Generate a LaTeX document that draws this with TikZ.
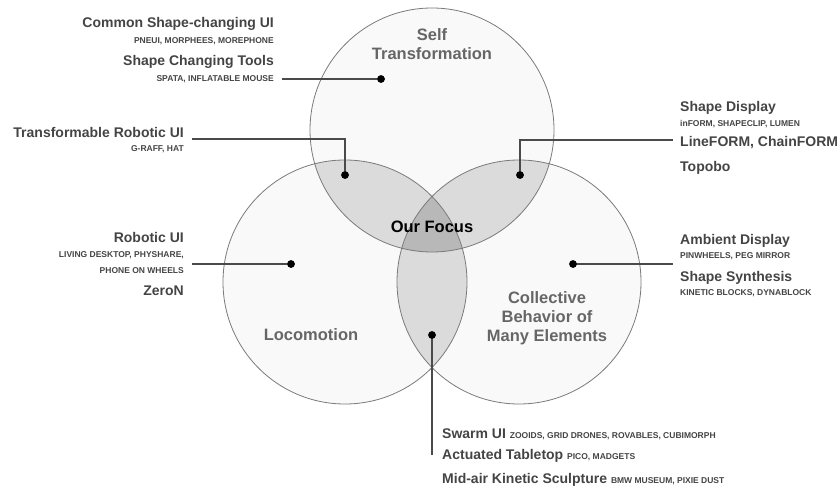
\documentclass[tikz,border=0pt]{standalone}
\usepackage{fontspec}
\setmainfont{Liberation Sans}
\definecolor{txt}{HTML}{444444}
\definecolor{clbl}{HTML}{666666}
\definecolor{conncol}{HTML}{4A4A4A}
\definecolor{cfill}{HTML}{F9F9F9}
\definecolor{pairfill}{HTML}{DBDBDB}
\definecolor{triplefill}{HTML}{B8B8B8}
\definecolor{cline}{HTML}{7A7A7A}
\begin{document}
\begin{tikzpicture}[x=1pt,y=-1pt,
  bigl/.style={font=\fontsize{14}{16}\selectfont\bfseries, text=txt, inner sep=0pt, text height=10pt, text depth=0pt},
  smalll/.style={font=\fontsize{8.5}{10}\selectfont\bfseries, text=txt, inner sep=0pt, text height=6.1pt, text depth=0pt},
  mixl/.style={inner sep=0pt, text=txt, anchor=base west},
  circlbl/.style={font=\fontsize{16.5}{19}\selectfont\bfseries, text=clbl, align=center, inner sep=0pt},
  conn/.style={draw=conncol, line width=1.3pt},
  dotn/.style={circle, fill=black, inner sep=0pt, minimum size=7.5pt},
  ring/.style={draw=cline, line width=0.8pt}
]
\useasboundingbox (0,0) rectangle (840,487);
\def\rad{122}
\coordinate (CT) at (432,130);
\coordinate (CL) at (345,282);
\coordinate (CR) at (519,282);
% fills
\fill[cfill] (CT) circle (\rad);
\fill[cfill] (CL) circle (\rad);
\fill[cfill] (CR) circle (\rad);
\begin{scope}
  \clip (CT) circle (\rad);
  \fill[pairfill] (CL) circle (\rad);
  \fill[pairfill] (CR) circle (\rad);
\end{scope}
\begin{scope}
  \clip (CL) circle (\rad);
  \fill[pairfill] (CR) circle (\rad);
\end{scope}
\begin{scope}
  \clip (CT) circle (\rad);
  \clip (CL) circle (\rad);
  \fill[triplefill] (CR) circle (\rad);
\end{scope}
\draw[ring] (CT) circle (\rad);
\draw[ring] (CL) circle (\rad);
\draw[ring] (CR) circle (\rad);

% circle labels
\node[circlbl] (lself) at (432,44.5) {Self\\Transformation};
\node[circlbl] (lloco) at (311,335) {Locomotion};
\node[circlbl, text=black] (lfocus) at (432,227) {Our Focus};
\node[circlbl, text=clbl] (lcoll) at (547,318) {Collective\\Behavior of\\Many Elements};

% top-left labels
\node[bigl, anchor=east] (t1) at (274,23) {Common Shape-changing UI};
\node[smalll, anchor=east] (t1s) at (274,40) {PNEUI, MORPHEES, MOREPHONE};
\node[bigl, anchor=east] (t2) at (274,61) {Shape Changing Tools};
\node[smalll, anchor=east] (t2s) at (274,78) {SPATA, INFLATABLE MOUSE};

\node[bigl, anchor=east] (t3) at (184,132) {Transformable Robotic UI};
\node[smalll, anchor=east] (t3s) at (184,148) {G-RAFF, HAT};

% top-right labels
\node[bigl, anchor=west] (r1) at (680,106) {Shape Display};
\node[smalll, anchor=west] (r1s) at (680,123) {inFORM, SHAPECLIP, LUMEN};
\node[bigl, anchor=west] (r2) at (680,141) {LineFORM, ChainFORM};
\node[bigl, anchor=west] (r3) at (680,166) {Topobo};

% left labels
\node[bigl, anchor=east] (l1) at (184,237) {Robotic UI};
\node[smalll, anchor=east] (l1s) at (184,254) {LIVING DESKTOP, PHYSHARE,};
\node[smalll, anchor=east] (l1t) at (184,270) {PHONE ON WHEELS};
\node[bigl, anchor=east] (l2) at (184,290) {ZeroN};

% right labels
\node[bigl, anchor=west] (a1) at (680,239) {Ambient Display};
\node[smalll, anchor=west] (a1s) at (680,255) {PINWHEELS, PEG MIRROR};
\node[bigl, anchor=west] (a2) at (680,276) {Shape Synthesis};
\node[smalll, anchor=west] (a2s) at (680,292) {KINETIC BLOCKS, DYNABLOCK};

% bottom labels
\node[mixl] (b1) at (442,438) {\fontsize{14}{16}\selectfont\bfseries Swarm UI {\fontsize{8.5}{10}\selectfont ZOOIDS, GRID DRONES, ROVABLES, CUBIMORPH}};
\node[mixl] (b2) at (442,459) {\fontsize{14}{16}\selectfont\bfseries Actuated Tabletop {\fontsize{8.5}{10}\selectfont PICO, MADGETS}};
\node[mixl] (b3) at (442,483) {\fontsize{14}{16}\selectfont\bfseries Mid-air Kinetic Sculpture {\fontsize{8.5}{10}\selectfont BMW MUSEUM, PIXIE DUST}};

% dots
\node[dotn] (d1) at (381,79) {};
\node[dotn] (d2) at (345,175) {};
\node[dotn] (d3) at (520,175) {};
\node[dotn] (d4) at (291,264) {};
\node[dotn] (d5) at (573,264) {};
\node[dotn] (d6) at (432,335) {};

% connector free ends
\coordinate (e1) at (282,79);
\coordinate (e2) at (192,139);
\coordinate (e3) at (673,140);
\coordinate (e4) at (192,264);
\coordinate (e5) at (673,264);
\coordinate (e6) at (432,455);

\draw[conn] (e1) -- (d1.center);
\draw[conn] (e2) -| (d2.center);
\draw[conn] (d3.center) |- (e3);
\draw[conn] (e4) -- (d4.center);
\draw[conn] (d5.center) -- (e5);
\draw[conn] (d6.center) -- (e6);

% redraw dots on top
\foreach \d in {d1,d2,d3,d4,d5,d6} \fill (\d) circle (3.75);
\end{tikzpicture}
\end{document}
